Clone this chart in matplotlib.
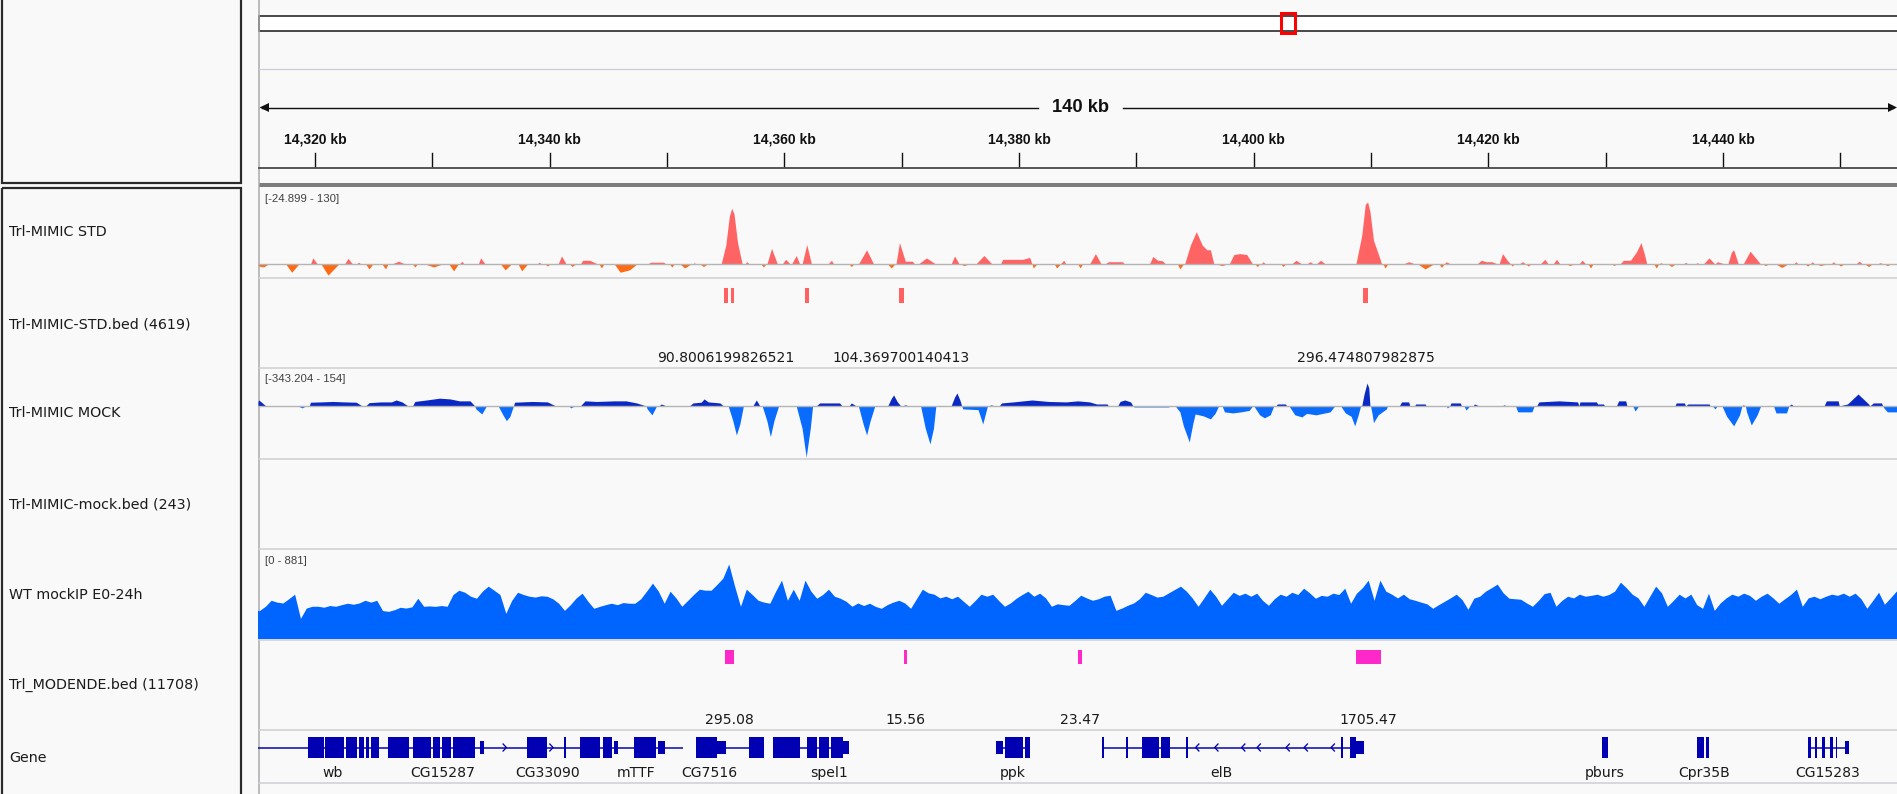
import matplotlib
matplotlib.use("Agg")
import matplotlib.pyplot as plt
from matplotlib.patches import Rectangle, Polygon
import numpy as np

# ------------------------------------------------------------------
# Genomic window (kb) and ruler
# ------------------------------------------------------------------
WINDOW_START = 14315.13
WINDOW_END = 14454.82
WINDOW_SPAN_LABEL = "140 kb"
RULER_TICKS = list(range(14320, 14451, 10))
RULER_LABELED = list(range(14320, 14441, 20))

TRACK_NAMES = ["Trl-MIMIC STD", "Trl-MIMIC-STD.bed (4619)", "Trl-MIMIC MOCK",
               "Trl-MIMIC-mock.bed (243)", "WT mockIP E0-24h",
               "Trl_MODENDE.bed (11708)", "Gene"]

STD_RANGE = (-24.899, 130)
MOCK_RANGE = (-343.204, 154)
WT_RANGE = (0, 881)

# Trl-MIMIC STD signal: (position kb, value)
std_points = [
    (14315.13, 0), (14315.2, -4), (14315.6, -6), (14316.0, 0),
    (14317.5, 0), (14318.0, -17), (14318.6, 0),
    (14319.6, 0), (14319.8, 13), (14320.2, 0),
    (14320.5, 0), (14321.1, -23), (14322.0, 0),
    (14322.5, 0), (14322.8, 12), (14323.2, 0),
    (14323.5, 0), (14323.7, 4), (14323.9, 0),
    (14324.3, 0), (14324.6, -10), (14324.9, 0),
    (14325.7, 0), (14326.0, -10), (14326.2, 0),
    (14326.5, 0), (14327.1, 6), (14327.7, 0),
    (14328.3, 0), (14328.5, -6), (14328.7, 0),
    (14329.4, 0), (14330.1, -6), (14330.8, 0),
    (14331.4, 0), (14331.8, -14), (14332.2, 0),
    (14332.3, 0), (14332.5, 6), (14332.7, 0),
    (14333.9, 0), (14334.1, 13), (14334.5, 0),
    (14335.8, 0), (14336.2, -12), (14336.7, 0),
    (14337.3, 0), (14337.6, -14), (14338.1, 0),
    (14338.9, 0), (14339.1, 4), (14339.3, 0),
    (14339.6, 0), (14339.8, -4), (14340.0, 0),
    (14340.7, 0), (14341.0, 17), (14341.4, 0),
    (14341.7, 0), (14341.9, -5), (14342.2, 0),
    (14342.6, 0), (14342.8, 8), (14343.4, 8), (14344.1, 0),
    (14344.2, 0), (14344.4, -8), (14344.6, 0),
    (14345.5, 0), (14346.0, -17), (14346.8, -12), (14347.4, 0),
    (14348.3, 0), (14348.6, 4), (14349.7, 4), (14349.9, 0),
    (14350.2, 0), (14350.4, -6), (14350.6, 0),
    (14351.1, 0), (14351.5, -8), (14352.0, 0),
    (14352.2, 0), (14352.3, 3), (14352.5, 0),
    (14352.8, 0), (14353.1, -5), (14353.4, 0),
    (14354.6, 0), (14355.0, 40), (14355.3, 100), (14355.5, 117), (14355.7, 105),
    (14356.0, 45), (14356.4, 0),
    (14356.6, 0), (14356.8, 5), (14357.0, 0),
    (14358.0, 0), (14358.2, -6), (14358.4, 0),
    (14358.5, 0), (14358.9, 33), (14359.4, 0),
    (14359.8, 0), (14360.1, 10), (14360.5, 0),
    (14360.6, 0), (14361.0, 18), (14361.3, 0),
    (14361.5, 0), (14361.9, 41), (14362.3, 0),
    (14363.7, 0), (14364.0, 8), (14364.2, 0),
    (14365.5, 0), (14365.7, -5), (14365.9, 0),
    (14366.3, 0), (14367.0, 30), (14367.6, 0),
    (14368.8, 0), (14369.1, -8), (14369.4, 0),
    (14369.5, 0), (14369.8, 45), (14370.3, 6), (14370.9, 6), (14371.1, 0),
    (14371.4, 0), (14372.1, 13), (14372.9, 0),
    (14374.2, 0), (14374.5, 17), (14374.9, 0),
    (14375.0, 0), (14375.3, -3), (14375.7, 0),
    (14376.3, 0), (14377.0, 18), (14377.7, 0),
    (14378.4, 0), (14378.6, 10), (14380.3, 10), (14380.9, 14), (14381.1, 0),
    (14381.2, -8), (14381.5, 0),
    (14383.0, 0), (14383.2, -8), (14383.5, 0), (14383.8, 8), (14384.0, 0),
    (14385.0, 0), (14385.2, -8), (14385.4, 0),
    (14386.0, 0), (14386.5, 22), (14387.0, 0),
    (14387.3, 0), (14387.6, 5), (14388.8, 5), (14389.0, 0),
    (14391.1, 0), (14391.4, 16), (14391.8, 8), (14392.2, 7), (14392.5, 0),
    (14393.5, 0), (14393.7, -10), (14394.0, 0),
    (14394.1, 0), (14394.6, 40), (14395.1, 68), (14395.6, 40), (14396.0, 30),
    (14396.3, 30), (14396.6, 0),
    (14396.8, 0), (14397.3, -3), (14397.7, 0),
    (14397.9, 0), (14398.3, 20), (14398.8, 22), (14399.4, 20), (14399.9, 0),
    (14400.1, 0), (14400.3, -5), (14400.5, 0),
    (14400.6, 0), (14400.8, 5), (14401.0, 0),
    (14402.3, 0), (14402.5, -5), (14402.7, 0),
    (14403.2, 0), (14403.6, 8), (14404.1, 0),
    (14404.5, 0), (14404.8, 5), (14405.1, 0),
    (14405.3, 0), (14405.7, 8), (14406.1, 0),
    (14408.7, 0), (14409.2, 60), (14409.5, 125), (14409.7, 130), (14409.9, 110),
    (14410.2, 50), (14410.7, 15), (14410.9, 0),
    (14411.0, 0), (14411.2, -8), (14411.4, 0),
    (14412.7, 0), (14413.2, 5), (14413.8, 0),
    (14414.0, 0), (14414.6, -10), (14415.3, 0),
    (14415.8, 0), (14416.0, -7), (14416.2, 0), (14416.4, 5), (14416.8, 0),
    (14419.0, 0), (14419.4, 8), (14419.8, 5), (14420.3, 5), (14420.8, 0),
    (14420.9, 0), (14421.2, 22), (14421.6, 8), (14421.9, 0), (14422.0, -4), (14422.2, 0),
    (14422.6, 0), (14422.9, 5), (14423.2, 0), (14423.4, -4), (14423.6, 0),
    (14424.4, 0), (14424.8, 10), (14425.1, 0),
    (14425.5, 0), (14425.8, 10), (14426.1, 0),
    (14426.7, 0), (14426.9, -3), (14427.3, 0),
    (14427.7, 0), (14428.0, 8), (14428.3, 0), (14428.5, 0), (14428.7, -8), (14428.9, 0),
    (14430.5, 0), (14430.7, -3), (14430.9, 0),
    (14431.2, 0), (14431.5, 8), (14432.1, 8), (14432.6, 25), (14433.0, 45),
    (14433.3, 20), (14433.5, 0),
    (14434.1, 0), (14434.3, -8), (14434.5, 0), (14434.7, 3), (14434.9, 0),
    (14435.3, 0), (14435.6, -5), (14435.9, 0),
    (14436.6, 0), (14436.8, 4), (14437.0, 0),
    (14437.6, 0), (14437.8, 3), (14438.0, 0),
    (14438.3, 0), (14438.8, 13), (14439.3, 0), (14439.5, 5), (14440.2, 0),
    (14440.4, 0), (14440.7, 25), (14440.9, 30), (14441.3, 0),
    (14441.7, 0), (14442.3, 27), (14443.2, 0),
    (14443.4, 0), (14443.6, -3), (14443.9, 0),
    (14444.5, 0), (14445.0, -7), (14445.5, 0),
    (14446.0, 0), (14446.2, 5), (14446.4, 0),
    (14447.0, 0), (14447.2, -4), (14447.4, 0), (14447.6, 5), (14447.8, 0),
    (14448.0, 0), (14448.3, -3), (14448.8, 0),
    (14449.2, 0), (14449.4, 5), (14449.6, 0),
    (14449.8, 0), (14450.0, -4), (14450.3, 0),
    (14451.3, 0), (14451.6, 6), (14451.9, 0),
    (14452.1, 0), (14452.4, -5), (14452.7, 0),
    (14453.1, 0), (14453.4, 3), (14453.7, 0), (14454.0, -3), (14454.3, 0),
    (14454.82, 0),
]

# Trl-MIMIC MOCK signal: (position kb, value)
mock_points = [
    (14315.13, 30), (14315.2, 40), (14315.8, 0),
    (14318.5, 0), (14318.9, -13), (14319.2, 0),
    (14319.5, 0), (14319.6, 25), (14320.5, 27), (14321.5, 30), (14322.5, 27),
    (14323.5, 25), (14324.0, 0),
    (14324.3, 0), (14324.6, 22), (14325.6, 27), (14326.5, 27), (14326.9, 40),
    (14327.4, 27), (14327.9, 0),
    (14328.3, 0), (14328.5, 30), (14329.5, 40), (14330.6, 52), (14331.5, 47),
    (14332.3, 34), (14333.2, 34), (14333.6, 0),
    (14333.7, -20), (14334.2, -54), (14334.6, 0),
    (14335.6, 0), (14336.0, -60), (14336.3, -99), (14336.6, -70), (14336.9, 0),
    (14337.0, 25), (14338.5, 30), (14339.8, 27), (14340.5, 0),
    (14341.6, 0), (14341.8, -13), (14342.1, 0),
    (14342.6, 0), (14343.0, 34), (14344.0, 30), (14345.5, 34), (14346.5, 34),
    (14347.4, 20), (14348.2, 0),
    (14348.3, -20), (14348.7, -60), (14349.1, 0),
    (14349.3, 0), (14349.5, 13), (14349.9, 0),
    (14351.9, 0), (14352.2, 20), (14352.9, 25), (14353.15, 47), (14353.5, 27),
    (14354.5, 20), (14354.8, 0),
    (14355.2, 0), (14355.6, -100), (14355.9, -195), (14356.2, -120), (14356.5, 0),
    (14357.3, 0), (14357.6, 40), (14357.9, 0),
    (14358.1, 0), (14358.5, -100), (14358.8, -206), (14359.1, -100), (14359.5, 0),
    (14361.0, 0), (14361.5, -150), (14361.85, -343), (14362.2, -150), (14362.4, 0),
    (14362.7, 0), (14363.0, 20), (14364.7, 20), (14364.9, 0),
    (14365.5, 0), (14365.7, 20), (14366.1, 0),
    (14366.3, 0), (14366.7, -120), (14367.0, -195), (14367.3, -100), (14367.7, 0),
    (14368.8, 0), (14369.1, 50), (14369.3, 74), (14369.6, 30), (14369.9, 0),
    (14370.0, 0), (14370.3, 7), (14370.6, 0),
    (14371.6, 0), (14372.0, -150), (14372.4, -255), (14372.7, -150), (14372.9, 0),
    (14374.2, 0), (14374.5, 60), (14374.7, 87), (14374.95, 40), (14375.1, 0),
    (14375.2, -20), (14376.5, -25), (14376.9, -121), (14377.3, 0),
    (14377.4, 0), (14377.6, 7), (14377.9, 0),
    (14378.3, 0), (14378.5, 20), (14379.5, 27), (14381.1, 40), (14382.5, 30),
    (14384.0, 27), (14385.0, 34), (14386.0, 27), (14386.6, 13), (14387.5, 13), (14387.6, 0),
    (14388.4, 0), (14388.6, 30), (14389.0, 40), (14389.5, 27), (14389.7, 0),
    (14389.8, -7), (14392.7, -7), (14393.0, 0),
    (14393.3, 0), (14393.7, -40), (14394.0, -134), (14394.5, -242), (14394.8, -120),
    (14395.0, -54), (14395.7, -67), (14396.3, -87), (14396.7, -50), (14397.0, 0),
    (14397.3, 0), (14397.5, -40), (14398.2, -47), (14398.9, -40), (14399.6, -30), (14399.9, 0),
    (14400.0, 0), (14400.5, -60), (14400.9, -80), (14401.4, -60), (14401.7, 0),
    (14401.9, 0), (14402.0, 13), (14402.7, 13), (14402.8, 0),
    (14403.0, 0), (14403.5, -60), (14404.1, -74), (14404.5, -50), (14405.3, -60),
    (14406.5, -40), (14406.9, 0),
    (14407.4, 0), (14407.8, -47), (14408.3, -70), (14408.6, -134), (14408.9, -60), (14409.1, 0),
    (14409.2, 0), (14409.4, 80), (14409.65, 154), (14409.8, 120), (14409.9, 0),
    (14409.95, 0), (14410.1, -60), (14410.2, -112), (14410.6, -60), (14411.3, -20), (14411.4, 0),
    (14412.4, 0), (14412.6, 27), (14413.2, 27), (14413.3, 0),
    (14413.7, 0), (14413.8, 13), (14414.6, 13), (14414.7, 0),
    (14416.4, 0), (14416.5, -13), (14416.7, 0), (14416.8, 20), (14417.6, 20), (14417.7, 0),
    (14417.9, 0), (14418.1, -27), (14418.4, 0),
    (14418.7, 0), (14418.8, 13), (14419.2, 0),
    (14421.2, 0), (14421.3, 7), (14421.6, 0),
    (14422.3, 0), (14422.5, -40), (14423.7, -40), (14423.9, 0),
    (14424.1, 0), (14424.3, 27), (14426.0, 34), (14427.6, 27), (14427.7, 0),
    (14427.8, 27), (14429.2, 27), (14429.3, 13), (14429.8, 13), (14429.9, 0),
    (14430.9, 0), (14431.1, 34), (14431.7, 34), (14431.8, 0),
    (14432.3, 0), (14432.5, -34), (14432.8, 0),
    (14435.9, 0), (14436.0, 20), (14436.7, 20), (14436.8, 0),
    (14437.0, 13), (14438.8, 13), (14438.9, 0),
    (14439.1, 0), (14439.3, -20), (14439.5, 0),
    (14439.9, 0), (14440.3, -70), (14440.9, -134), (14441.4, -60), (14441.6, 0),
    (14441.7, 7), (14441.9, 0),
    (14442.0, -40), (14442.4, -128), (14442.9, -60), (14443.2, 0),
    (14444.3, 0), (14444.5, -47), (14445.4, -47), (14445.6, 0),
    (14445.8, 13), (14446.0, 0),
    (14448.6, 0), (14448.8, 34), (14449.8, 34), (14449.9, 0),
    (14450.6, 13), (14451.5, 80), (14452.4, 13), (14452.5, 0),
    (14452.8, 20), (14453.5, 20), (14453.6, 0),
    (14453.7, -13), (14454.0, -40), (14454.82, -40),
]

# WT mockIP E0-24h coverage in 0.5 kb bins starting at WT_BIN_START
WT_BIN_START = 14315.0
WT_BIN_KB = 0.5
wt_values = [
    330, 380, 452, 430, 420, 470, 524, 238, 360, 381,
    381, 370, 390, 381, 400, 417, 405, 420, 452, 430,
    452, 330, 321, 340, 369, 360, 375, 476, 381, 385,
    380, 390, 381, 520, 571, 547, 500, 476, 560, 619,
    571, 520, 298, 450, 547, 520, 500, 490, 505, 500,
    470, 417, 333, 400, 480, 536, 440, 357, 380, 400,
    417, 400, 425, 417, 417, 470, 560, 655, 560, 417,
    559, 480, 381, 450, 520, 583, 571, 571, 640, 714,
    881, 620, 381, 583, 520, 452, 430, 417, 560, 690,
    452, 583, 452, 690, 560, 476, 520, 583, 500, 476,
    440, 381, 420, 390, 417, 380, 357, 400, 430, 452,
    420, 357, 470, 583, 540, 524, 480, 500, 470, 500,
    440, 381, 450, 524, 500, 524, 450, 381, 420, 476,
    520, 559, 500, 536, 480, 381, 410, 400, 393, 450,
    512, 480, 452, 470, 500, 512, 333, 360, 393, 420,
    470, 547, 520, 490, 500, 540, 580, 619, 560, 480,
    381, 480, 583, 500, 393, 470, 547, 510, 536, 500,
    536, 450, 393, 470, 524, 500, 547, 520, 595, 540,
    476, 510, 500, 536, 520, 595, 417, 536, 600, 690,
    452, 690, 560, 524, 480, 524, 470, 452, 430, 410,
    357, 400, 440, 480, 524, 460, 345, 476, 500, 560,
    600, 643, 540, 476, 470, 464, 420, 381, 450, 530,
    547, 381, 450, 500, 480, 524, 500, 510, 524, 500,
    520, 560, 666, 600, 524, 480, 381, 500, 619, 540,
    381, 450, 524, 480, 524, 400, 357, 536, 333, 420,
    480, 524, 500, 536, 510, 452, 500, 536, 480, 417,
    470, 520, 583, 381, 480, 500, 470, 500, 524, 510,
    536, 500, 536, 470, 357, 450, 547, 405, 480, 559,
]

# BED features: (start kb, end kb, score label or None)
std_bed = [
    (14354.85, 14355.19, "90.8006199826521"),
    (14355.41, 14355.70, None),
    (14361.71, 14362.09, None),
    (14369.77, 14370.19, "104.369700140413"),
    (14409.33, 14409.76, "296.474807982875"),
]
modende_bed = [
    (14354.93, 14355.70, "295.08"),
    (14370.16, 14370.45, "15.56"),
    (14385.06, 14385.34, "23.47"),
    (14408.72, 14410.85, "1705.47"),
]

# Gene models
gene_lines = [(14315.13, 14351.36), (14352.46, 14358.26), (14359.02, 14365.50),
              (14378.01, 14380.93), (14387.10, 14409.40), (14447.24, 14450.76)]
gene_exons = [
    (14319.39, 14320.72), (14320.84, 14322.44), (14322.63, 14323.57), (14323.78, 14324.17),
    (14324.34, 14324.57), (14324.72, 14325.45),
    (14326.21, 14327.96), (14328.34, 14329.88), (14330.05, 14330.64), (14330.81, 14331.58),
    (14331.75, 14333.63),
    (14338.06, 14339.77), (14341.22, 14341.38),
    (14342.58, 14344.28), (14344.54, 14345.31),
    (14347.18, 14349.06),
    (14352.46, 14354.25), (14356.98, 14358.26),
    (14359.02, 14361.32), (14361.92, 14362.77), (14362.94, 14363.79), (14363.97, 14364.99),
    (14378.78, 14380.34), (14380.51, 14380.93),
    (14387.10, 14387.24), (14389.13, 14389.27), (14390.47, 14391.92), (14392.09, 14392.86),
    (14394.25, 14394.39), (14407.46, 14407.60), (14408.24, 14408.71),
    (14429.67, 14430.18),
    (14437.80, 14438.35), (14438.52, 14438.78),
    (14447.24, 14447.50), (14447.84, 14448.01), (14448.40, 14448.72), (14449.07, 14449.33),
    (14449.62, 14449.74),
]
gene_utrs = [(14334.05, 14334.39), (14345.48, 14345.82), (14349.23, 14349.82),
             (14354.25, 14355.02), (14364.99, 14365.50), (14378.01, 14378.61),
             (14408.71, 14409.40), (14450.35, 14450.76)]
plus_arrows = [14336.3, 14340.28]
minus_arrows = [14395.04, 14396.67, 14398.96, 14400.28, 14402.75, 14404.29, 14406.59]
gene_names = ["wb", "CG15287", "CG33090", "mTTF", "CG7516", "spel1", "ppk", "elB",
              "pburs", "Cpr35B", "CG15283"]
gene_name_pos = [14321.49, 14330.90, 14339.77, 14347.35, 14353.61, 14363.77, 14379.44,
                 14397.21, 14429.93, 14438.38, 14448.92]

# ------------------------------------------------------------------
# Styling
# ------------------------------------------------------------------
W, H, DPI = 1897, 794, 100
PT = 72.0 / DPI                 # points per pixel
BG = "#f9f9f9"
DARK = "#2a2a2a"
SEP = "#cfcfd6"
STD_POS, STD_NEG = "#ff6464", "#ff6a14"
MOCK_POS, MOCK_NEG = "#0a28c4", "#0a6cff"
WT_COLOR = "#0064ff"
BED_STD = "#ff6060"
BED_MOD = "#ff28c8"
GENE = "#0000b2"
REG = ["DejaVu Sans"]
ARIAL = ["Liberation Sans", "DejaVu Sans"]

PANEL_X = 258
track_tops = [188, 278, 368, 459, 549, 640, 730]
track_bots = [278, 368, 459, 549, 640, 730, 783]

fig = plt.figure(figsize=(W / DPI, H / DPI), dpi=DPI)
fig.patch.set_facecolor(BG)

# pixel canvas for frame decorations
cv = fig.add_axes([0, 0, 1, 1])
cv.set_xlim(0, W)
cv.set_ylim(H, 0)
cv.axis("off")

# name panel boxes
cv.add_patch(Rectangle((2, -10), 239, 192.5, fill=False, ec=DARK, lw=2.2 * PT))
cv.add_patch(Rectangle((2, 187.5), 239, 700, fill=False, ec=DARK, lw=2.2 * PT))
cv.plot([258.5, 258.5], [0, H], color="#a8a8a8", lw=1.5 * PT)

# chromosome overview with current-region marker
cv.add_patch(Rectangle((259, 15.5), 1700, 15, fc="white", ec="#222222", lw=1.6 * PT))
cv.add_patch(Rectangle((1281, 13), 14, 20, fill=False, ec="#ff0000", lw=3 * PT, zorder=5))
cv.plot([259, W], [68.5, 68.5], color="#cacada", lw=1.2 * PT)

# ruler span arrow
cv.plot([262, 1038], [107.5, 107.5], color="#111111", lw=1.4 * PT)
cv.plot([1123, 1893], [107.5, 107.5], color="#111111", lw=1.4 * PT)
cv.add_patch(Polygon([(259.5, 107.5), (269, 103), (269, 112)], closed=True, fc="#111111", ec="none"))
cv.add_patch(Polygon([(1897, 107.5), (1888, 103), (1888, 112)], closed=True, fc="#111111", ec="none"))
cv.text(1080, 108, WINDOW_SPAN_LABEL, ha="center", va="center", fontsize=13.2,
        fontweight="bold", family=ARIAL, color="#111111")

# header bottom lines
cv.plot([259, W], [167.5, 167.5], color="#333333", lw=1.6 * PT)
cv.add_patch(Rectangle((259, 182.5), W, 4.8, fc="#7c7c7c", ec="none"))

# track separators and names
for yb in track_bots:
    cv.plot([259, W], [yb, yb], color=SEP, lw=1.6 * PT)
label_y = [232, 324, 413, 504, 595, 685, 758]
for name, y in zip(TRACK_NAMES, label_y):
    cv.text(9, y, name, ha="left", va="center", fontsize=10.3, family=REG, color="#1a1a1a")

# data-range labels
for rng, top in zip([STD_RANGE, MOCK_RANGE, WT_RANGE], [track_tops[0], track_tops[2], track_tops[4]]):
    cv.text(265, top + 11.5, f"[{rng[0]:g} - {rng[1]:g}]", ha="left", va="center",
            fontsize=8.2, family=ARIAL, color="#404040")

# ------------------------------------------------------------------
# Genomic axes (kb in x, pixels in y) for ruler, BED features, genes
# ------------------------------------------------------------------
gx = fig.add_axes([PANEL_X / W, 0, (W - PANEL_X) / W, 1])
gx.set_xlim(WINDOW_START, WINDOW_END)
gx.set_ylim(H, 0)
gx.axis("off")
gx.patch.set_alpha(0)

for t in RULER_TICKS:
    gx.plot([t, t], [153, 166], color="#111111", lw=1.4 * PT)
for t in RULER_LABELED:
    gx.text(t, 140, f"{t:,} kb", ha="center", va="center", fontsize=10,
            fontweight="bold", family=ARIAL, color="#111111")

for s, e, lab in std_bed:
    gx.add_patch(Rectangle((s, 288), e - s, 15, fc=BED_STD, ec="none"))
    if lab:
        gx.text((s + e) / 2, 358.5, lab, ha="center", va="center", fontsize=10.1,
                family=REG, color="#1a1a1a")
for s, e, lab in modende_bed:
    gx.add_patch(Rectangle((s, 650), e - s, 14, fc=BED_MOD, ec="none"))
    gx.text((s + e) / 2, 720, lab, ha="center", va="center", fontsize=10.1,
            family=REG, color="#1a1a1a")

GENE_Y = 747.5
for s, e in gene_lines:
    gx.plot([s, e], [GENE_Y, GENE_Y], color=GENE, lw=1.5 * PT, solid_capstyle="butt")
for s, e in gene_exons:
    gx.add_patch(Rectangle((s, 737), e - s, 21, fc=GENE, ec="none"))
for s, e in gene_utrs:
    gx.add_patch(Rectangle((s, 741), e - s, 13, fc=GENE, ec="none"))
for a in plus_arrows:
    gx.plot([a - 0.28, a, a - 0.28], [GENE_Y - 3.5, GENE_Y, GENE_Y + 3.5], color=GENE, lw=1.3 * PT)
for a in minus_arrows:
    gx.plot([a + 0.28, a, a + 0.28], [GENE_Y - 3.5, GENE_Y, GENE_Y + 3.5], color=GENE, lw=1.3 * PT)
for name, pos in zip(gene_names, gene_name_pos):
    gx.text(pos, 773, name, ha="center", va="center", fontsize=10.1, family=REG, color="#1a1a1a")


# ------------------------------------------------------------------
# Signal tracks
# ------------------------------------------------------------------
def signal_axes(y_top, y_bot, ylim):
    ax = fig.add_axes([PANEL_X / W, 1 - y_bot / H, (W - PANEL_X) / W, (y_bot - y_top) / H])
    ax.set_xlim(WINDOW_START, WINDOW_END)
    ax.set_ylim(*ylim)
    ax.axis("off")
    ax.patch.set_alpha(0)
    return ax


def draw_signal(ax, x, y, pos_color, neg_color, baseline=True):
    x = np.asarray(x, dtype=float)
    y = np.asarray(y, dtype=float)
    ax.fill_between(x, 0, np.clip(y, 0, None), color=pos_color, lw=0, zorder=2)
    ax.fill_between(x, 0, np.clip(y, None, 0), color=neg_color, lw=0, zorder=2)
    if baseline:
        ax.axhline(0, color="#b4b4b4", lw=1.4 * PT, zorder=3)


ax_std = signal_axes(202, 276, STD_RANGE)
draw_signal(ax_std, [p[0] for p in std_points], [p[1] for p in std_points], STD_POS, STD_NEG)

ax_mock = signal_axes(383, 457, MOCK_RANGE)
draw_signal(ax_mock, [p[0] for p in mock_points], [p[1] for p in mock_points], MOCK_POS, MOCK_NEG)

ax_wt = signal_axes(564, 638.5, WT_RANGE)
wt_x = [WT_BIN_START + (i + 0.5) * WT_BIN_KB for i in range(len(wt_values))]
wt_x = [WT_BIN_START] + wt_x + [WT_BIN_START + len(wt_values) * WT_BIN_KB]
wt_y = [wt_values[0]] + wt_values + [wt_values[-1]]
draw_signal(ax_wt, wt_x, wt_y, WT_COLOR, WT_COLOR, baseline=False)

fig.savefig("out.png", dpi=DPI, facecolor=BG)
